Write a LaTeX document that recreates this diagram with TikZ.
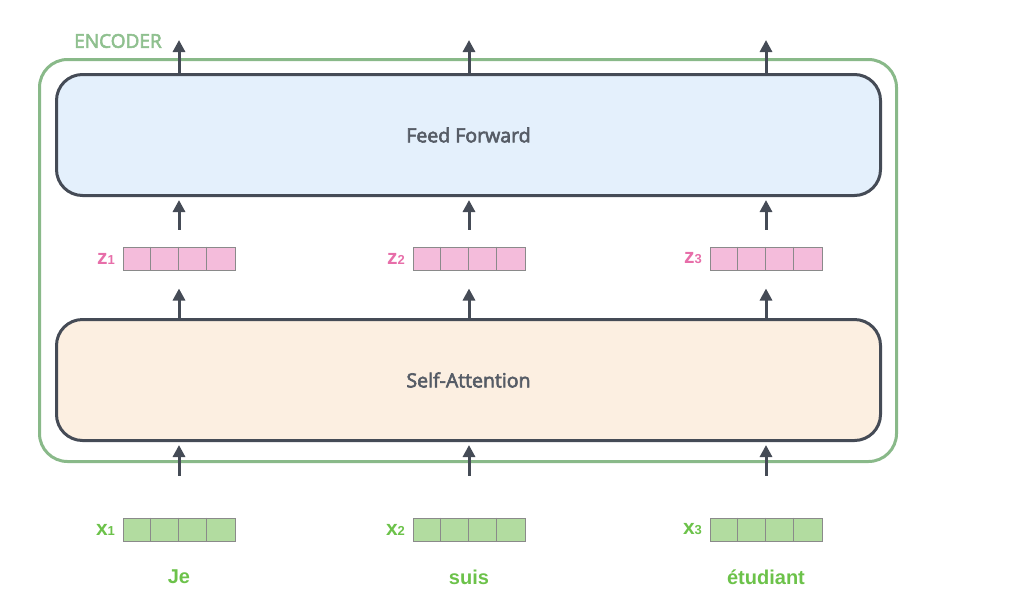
\documentclass[tikz,border=0pt]{standalone}
\usepackage{fontspec}
\setmainfont{Open Sans}
\newfontfamily\semibold{Open Sans}[FakeBold=3]
\newfontfamily\helv{Liberation Sans}
\usetikzlibrary{arrows.meta, positioning}

\definecolor{encgreen}{RGB}{137,185,137}
\definecolor{enctext}{RGB}{143,192,143}
\definecolor{darkline}{RGB}{69,75,86}
\definecolor{textgray}{RGB}{86,92,102}
\definecolor{ffblue}{RGB}{228,240,252}
\definecolor{saorange}{RGB}{252,239,225}
\definecolor{zpink}{RGB}{244,188,219}
\definecolor{zlabel}{RGB}{231,110,169}
\definecolor{xgreen}{RGB}{178,220,160}
\definecolor{xlabel}{RGB}{108,194,74}
\definecolor{cellline}{RGB}{138,138,138}

\tikzset{
  block/.style={draw=darkline, line width=3pt, rounded corners=26pt,
    minimum width=824pt, minimum height=121pt,
    font=\semibold\fontsize{19.5}{23}\selectfont, text=textgray},
  vec/.style={draw=cellline, line width=1pt, minimum width=112pt,
    minimum height=23pt, inner sep=0pt},
  arr/.style={-{Triangle[length=12pt,width=12pt]}, line width=3pt, draw=darkline},
}

\begin{document}
\begin{tikzpicture}[x=1pt, y=-1pt]
  \useasboundingbox (0,0) rectangle (1009,611);

  % Encoder frame
  \node[draw=encgreen, line width=3pt, rounded corners=28pt,
        minimum width=857pt, minimum height=402pt] (enc) at (468,260.5) {};
  \node[text=enctext, font=\semibold\fontsize{19}{22}\selectfont] (enclabel) at (118,41) {ENCODER};

  % Layers
  \node[block, fill=ffblue] (ff) at (468.5,135) {Feed Forward};
  \node[block, fill=saorange] (sa) at (468.5,380) {Self-Attention};

  % Vectors, words and arrows
  \foreach \i/\cx/\w in {1/179/Je, 2/469/suis, 3/766/étudiant}{
    \node[vec, fill=zpink] (z\i) at (\cx,258.5) {};
    \node[vec, fill=xgreen] (x\i) at (\cx,529.5) {};
    \foreach \k in {1,2,3}{
      \draw[cellline, line width=1pt] ([xshift=\k*28pt]z\i.north west) -- ([xshift=\k*28pt]z\i.south west);
      \draw[cellline, line width=1pt] ([xshift=\k*28pt]x\i.north west) -- ([xshift=\k*28pt]x\i.south west);
    }
    \node[left=4pt of z\i, text=zlabel, font=\helv\bfseries\fontsize{21}{21}\selectfont] (zl\i)
      {z{\fontsize{13}{13}\selectfont\i}};
    \node[left=4pt of x\i, text=xlabel, font=\helv\bfseries\fontsize{21}{21}\selectfont] (xl\i)
      {x{\fontsize{13}{13}\selectfont\i}};
    \node[text=xlabel, font=\helv\bfseries\fontsize{20}{24}\selectfont] (w\i) at (\cx,577) {\w};

    \coordinate (out\i) at (\cx,40);
    \draw[arr] (ff.north -| out\i) -- (out\i);
    \draw[arr, shorten <=17pt, shorten >=3pt] (z\i.north) -- (ff.south -| z\i);
    \draw[arr, shorten >=18pt] (sa.north -| z\i) -- (z\i.south);
    \draw[arr, shorten <=42pt, shorten >=3pt] (x\i.north) -- (sa.south -| x\i);
  }
\end{tikzpicture}
\end{document}
